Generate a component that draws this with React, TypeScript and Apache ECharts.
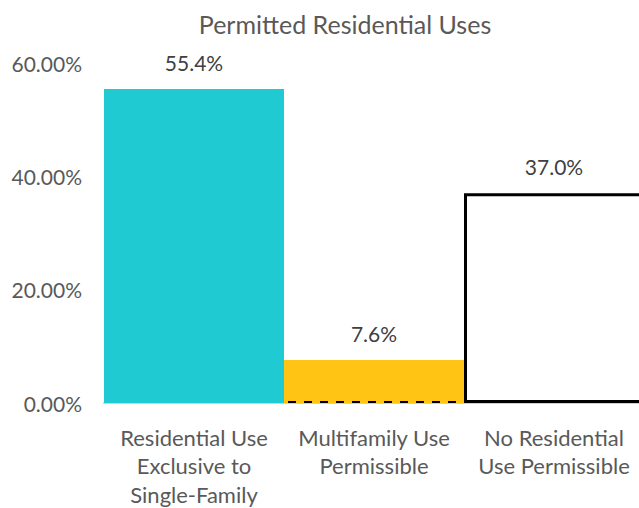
import React, { useEffect, useRef } from "react";
import * as echarts from "echarts";

const title = "Permitted Residential Uses";
const categories = [
  "Residential Use\nExclusive to\nSingle-Family",
  "Multifamily Use\nPermissible",
  "No Residential\nUse Permissible",
];
const values = [55.4, 7.6, 37.0];
const barColors = ["#1FCAD3", "#FFC414", "#FFFFFF"];
const yTicks = [0, 20, 40, 60];

export default function App() {
  const ref = useRef<HTMLDivElement>(null);
  useEffect(() => {
    if (!ref.current) return;
    const chart = echarts.init(ref.current, undefined, { renderer: "svg" });
    const font = "Lato, sans-serif";
    chart.setOption({
      animation: false,
      title: {
        text: title,
        left: 340,
        textAlign: "center",
        top: 6,
        textStyle: { fontFamily: font, fontSize: 25, fontWeight: "normal", color: "#595959" },
      },
      grid: {
        left: 104,
        width: 540,
        top: 63,
        height: 340,
        containLabel: false,
        outerBoundsMode: "none",
      },
      xAxis: {
        type: "category",
        data: categories,
        axisLine: { show: true, lineStyle: { color: "#d0d0d0", width: 2 } },
        axisTick: { show: false },
        axisLabel: {
          interval: 0,
          fontFamily: font,
          fontSize: 22,
          color: "#595959",
          lineHeight: 28.5,
          margin: 20,
        },
      },
      yAxis: {
        type: "value",
        min: yTicks[0],
        max: yTicks[yTicks.length - 1],
        interval: 20,
        splitLine: { show: false },
        axisLine: { show: false },
        axisTick: { show: false },
        axisLabel: {
          fontFamily: font,
          fontSize: 21,
          color: "#595959",
          margin: 22,
          formatter: (v: number) => v.toFixed(2) + "%",
        },
      },
      series: [
        {
          type: "bar",
          barCategoryGap: "0%",
          data: values.map((v, i) => ({
            value: v,
            itemStyle:
              i === 2
                ? { color: barColors[i], borderColor: "#000", borderWidth: 3 }
                : { color: barColors[i] },
          })),
          label: {
            show: true,
            position: "top",
            distance: 16,
            fontFamily: font,
            fontSize: 21,
            color: "#404040",
            formatter: (p: any) => p.value.toFixed(1) + "%",
          },
        },
        {
          type: "custom",
          data: [[1, 0]],
          z: 5,
          renderItem: (params: any, api: any) => {
            const c = api.coord([api.value(0), api.value(1)]);
            const w = api.size([1, 0])[0];
            return {
              type: "line",
              shape: { x1: c[0] - w / 2 + 4, y1: c[1] - 1, x2: c[0] + w / 2, y2: c[1] - 1 },
              style: { stroke: "#000", lineWidth: 2, lineDash: [8, 8] },
            };
          },
        },
      ],
    });
    return () => chart.dispose();
  }, []);
  return <div ref={ref} style={{ width: 639, height: 508, position: "absolute", left: 0, top: 0 }} />;
}
